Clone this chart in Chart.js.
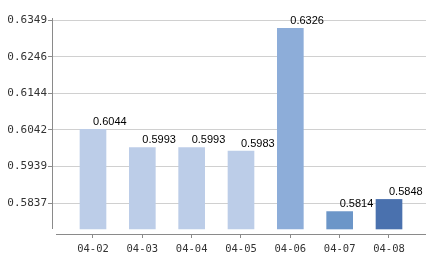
<!DOCTYPE html>
<html>
<head>
    <title>Daily Values</title>
    <script src="https://cdn.jsdelivr.net/npm/chart.js"></script>
    <style>
        body { margin: 0; background: #fff; }
    </style>
</head>
<body>
    <canvas id="barChart" width="438" height="260"></canvas>

    <script>
        // Data
        const categories = ['04-02', '04-03', '04-04', '04-05', '04-06', '04-07', '04-08'];
        const values = [0.6044, 0.5993, 0.5993, 0.5983, 0.6326, 0.5814, 0.5848];
        const barColors = ['#bccde8', '#bccde8', '#bccde8', '#bccde8', '#8dadd9', '#6c96c8', '#4a71ae'];
        const yTickValues = [0.58372, 0.59396, 0.6042, 0.61444, 0.62468, 0.63492];
        const yTickLabels = ['0.5837', '0.5939', '0.6042', '0.6144', '0.6246', '0.6349'];

        // Value axis range and where bars start
        const yMin = 0.57514;
        const yMax = 0.63548;
        const barBase = 0.57654;

        // Labels sit to the right of each bar's centre, just above it
        const valueLabels = {
            id: 'valueLabels',
            afterDatasetsDraw(chart) {
                const ctx = chart.ctx;
                const meta = chart.getDatasetMeta(0);
                ctx.save();
                ctx.font = '11px "Liberation Sans", Arial, sans-serif';
                ctx.fillStyle = '#000';
                ctx.textAlign = 'left';
                ctx.textBaseline = 'bottom';
                meta.data.forEach((bar, i) => {
                    ctx.fillText(values[i].toFixed(4), bar.x, bar.y - 2);
                });
                ctx.restore();
            }
        };

        // Axis lines: the x axis sits a little below the bars and apart from the y axis
        const axisLines = {
            id: 'axisLines',
            afterDraw(chart) {
                const ctx = chart.ctx;
                const area = chart.chartArea;
                const yScale = chart.scales.y;
                ctx.save();
                ctx.strokeStyle = '#8a8a8a';
                ctx.lineWidth = 1;
                ctx.beginPath();
                ctx.moveTo(area.left + 0.5, area.top);
                ctx.lineTo(area.left + 0.5, Math.round(yScale.getPixelForValue(barBase)));
                ctx.moveTo(area.left + 4, area.bottom + 0.5);
                ctx.lineTo(area.right, area.bottom + 0.5);
                ctx.stroke();
                ctx.restore();
            }
        };

        const ctx = document.getElementById('barChart').getContext('2d');
        new Chart(ctx, {
            type: 'bar',
            data: {
                datasets: [{
                    data: values.map((v, i) => ({ x: i, y: v })),
                    backgroundColor: barColors,
                    borderWidth: 0,
                    barThickness: 26,
                    base: barBase
                }]
            },
            options: {
                responsive: false,
                animation: false,
                layout: { padding: { top: 18, right: 12 } },
                plugins: {
                    legend: { display: false },
                    tooltip: { enabled: false }
                },
                scales: {
                    x: {
                        type: 'linear',
                        min: -0.831,
                        max: 6.75,
                        offset: false,
                        afterBuildTicks: (scale) => {
                            scale.ticks = categories.map((c, i) => ({ value: i }));
                        },
                        afterFit: (scale) => { scale.height = 26; },
                        border: { display: false },
                        grid: {
                            offset: false,
                            drawOnChartArea: false,
                            color: '#8a8a8a',
                            tickLength: 4
                        },
                        ticks: {
                            autoSkip: false,
                            maxRotation: 0,
                            padding: 5,
                            color: '#333',
                            font: { family: '"DejaVu Sans Mono", monospace', size: 10.5 },
                            callback: (value) => categories[value]
                        }
                    },
                    y: {
                        min: yMin,
                        max: yMax,
                        afterBuildTicks: (scale) => {
                            scale.ticks = yTickValues.map(v => ({ value: v }));
                        },
                        afterFit: (scale) => { scale.width = 52; },
                        border: { display: false },
                        grid: {
                            color: '#d0d0d0',
                            tickColor: '#8a8a8a',
                            tickLength: 4
                        },
                        ticks: {
                            padding: 1,
                            color: '#333',
                            font: { family: '"DejaVu Sans Mono", monospace', size: 11 },
                            callback: (value, index) => yTickLabels[index]
                        }
                    }
                }
            },
            plugins: [valueLabels, axisLines]
        });
    </script>
</body>
</html>
